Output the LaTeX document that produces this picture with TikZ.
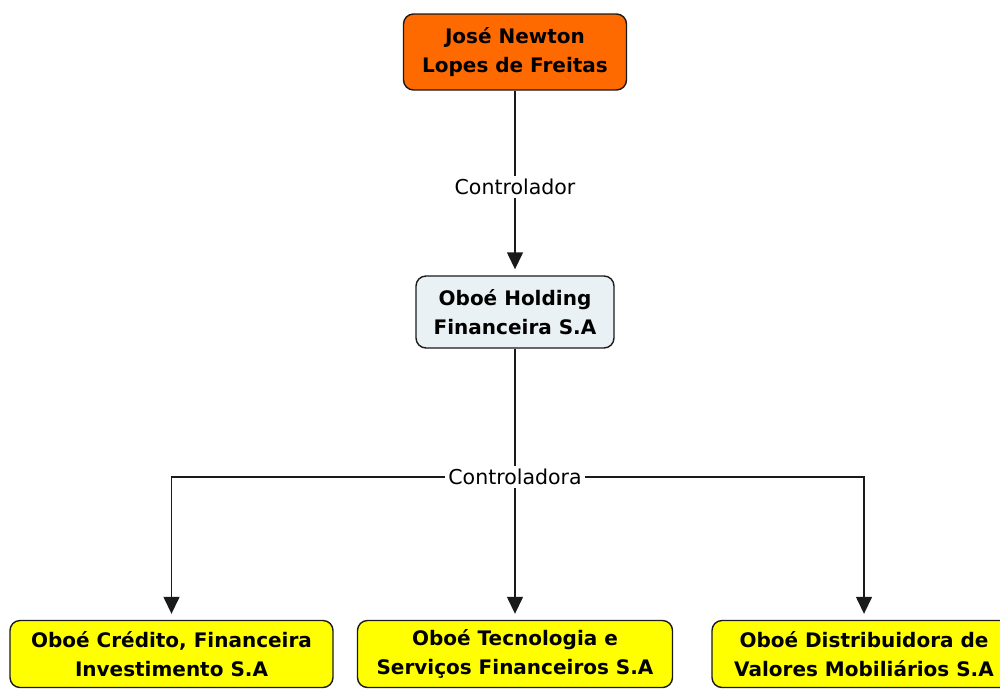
\documentclass[tikz,border=0pt]{standalone}
\usepackage{fontspec}
\setmainfont{DejaVu Sans}
\usetikzlibrary{arrows.meta}
\definecolor{orangebox}{HTML}{FF6A00}
\definecolor{holdbox}{HTML}{EAF1F5}
\definecolor{yellowbox}{HTML}{FFFF00}
\definecolor{edgegray}{HTML}{1A1A1A}
\tikzset{
  concept/.style={draw=edgegray, line width=1.4pt, rounded corners=10pt, align=center,
    font=\fontsize{20}{29}\selectfont\bfseries, inner sep=0pt, text=black},
  linklabel/.style={fill=white, inner sep=3pt, font=\fontsize{20.5}{22}\selectfont},
  conn/.style={draw=edgegray, line width=1.4pt},
  arr/.style={conn, -{Triangle[width=16pt,length=17pt]}, shorten >=6pt},
}
\begin{document}
\begin{tikzpicture}[x=1pt,y=-1pt]
\useasboundingbox (0,0) rectangle (1000,689);
\node[concept, fill=orangebox, minimum width=223pt, minimum height=76pt] (jose) at (515,52) {José Newton\\Lopes de Freitas};
\node[concept, fill=holdbox, minimum width=198pt, minimum height=72pt] (hold) at (515,312) {Oboé Holding\\Financeira S.A};
\node[linklabel] (ctrl1) at (515,187) {Controlador};
\node[linklabel] (ctrl2) at (515,477) {Controladora};
\node[concept, fill=yellowbox, minimum width=323pt, minimum height=67pt] (c1) at (171.5,654) {Oboé Crédito, Financeira\\Investimento S.A};
\node[concept, fill=yellowbox, minimum width=315pt, minimum height=67pt] (c2) at (515,654) {Oboé Tecnologia e\\Serviços Financeiros S.A};
\node[concept, fill=yellowbox, minimum width=304pt, minimum height=67pt] (c3) at (864,654) {Oboé Distribuidora de\\Valores Mobiliários S.A};
\draw[conn] (jose.south) -- (ctrl1.north);
\draw[arr] (ctrl1.south) -- (hold.north);
\draw[conn] (hold.south) -- (ctrl2.north);
\draw[arr] (ctrl2.south) -- (ctrl2.south |- c2.north);
\draw[arr] (ctrl2.west) -- (ctrl2.west -| c1.north) -- (c1.north);
\draw[arr] (ctrl2.east) -- (ctrl2.east -| c3.north) -- (c3.north);
\end{tikzpicture}
\end{document}
